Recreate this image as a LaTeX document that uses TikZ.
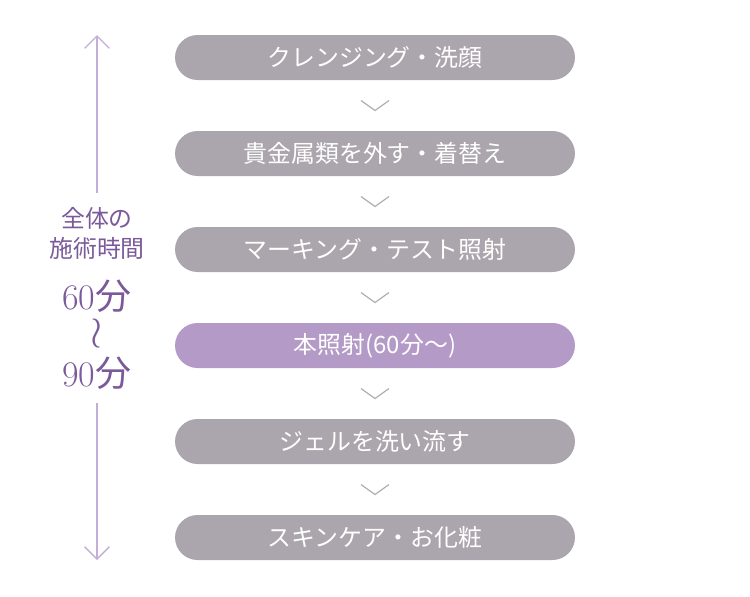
\documentclass[tikz,border=0pt]{standalone}
\usepackage{fontspec}
\newfontfamily\cjk{Noto Sans CJK JP}
\usetikzlibrary{arrows.meta,positioning,calc}
\definecolor{stepgray}{HTML}{ABA5AD}
\definecolor{steppurple}{HTML}{B49AC6}
\definecolor{chevgray}{HTML}{B3ADB5}
\definecolor{linepurple}{HTML}{C2AED9}
\definecolor{textpurple}{HTML}{7A5A9A}

\begin{document}
\begin{tikzpicture}[x=0.02cm, y=-0.02cm,
    stepbox/.style={rounded corners=0.45cm, minimum width=8cm, minimum height=0.9cm, inner sep=0pt, fill=stepgray, text=white, font=\cjk\fontsize{13.6}{16}\selectfont},
    chev/.style={draw=chevgray, line width=0.7pt},
    timearrow/.style={-{Straight Barb[length=7pt, width=14pt, line width=0.8pt]}, draw=linepurple, line width=0.8pt},
    timelabel/.style={text=textpurple, inner sep=0pt, font=\cjk\fontsize{13.6}{16}\selectfont},
    timebig/.style={text=textpurple, inner sep=0pt, text depth=0pt, font=\fontsize{20.5}{24}\selectfont}
]
\useasboundingbox (0,0) rectangle (750,596);

\node[stepbox] (s1) at (375,57.5) {クレンジング・洗顔};
\node[stepbox] (s2) at (375,153.5) {貴金属類を外す・着替え};
\node[stepbox] (s3) at (375,249.5) {マーキング・テスト照射};
\node[stepbox, fill=steppurple] (s4) at (375,345.5) {本照射(60分〜)};
\node[stepbox] (s5) at (375,441.5) {ジェルを洗い流す};
\node[stepbox] (s6) at (375,537.5) {スキンケア・お化粧};

\foreach \a/\b in {s1/s2, s2/s3, s3/s4, s4/s5, s5/s6}
  \draw[chev] ($(\a.south)!0.5!(\b.north)+(-14,-5)$) -- ++(14,10) -- ++(14,-10);

\node[timelabel] (t1) at (97,218) {全体の};
\node[timelabel] (t2) at (97,248) {施術時間};
\node[timebig] (t3) at (97,295) {60{\cjk 分}};
\node[timebig, font=\fontsize{32}{34}\selectfont, text height=0.5em, text depth=0.05em] (t4) at (97,341) {$\wr$};
\node[timebig] (t5) at (97,372) {90{\cjk 分}};

\coordinate (top) at (97,35);
\coordinate (bottom) at (97,560);
\draw[timearrow, shorten <=8pt] (t1.north) -- (top);
\draw[timearrow, shorten <=9pt] (t5.south) -- (bottom);
\end{tikzpicture}
\end{document}
